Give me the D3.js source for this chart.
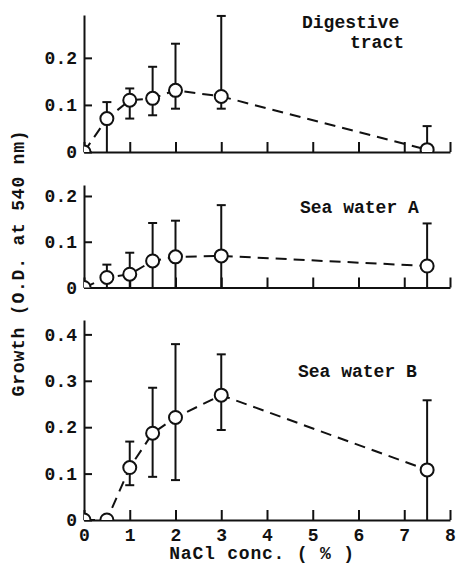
<!DOCTYPE html>
<html>
<head>
<meta charset="utf-8">
<script src="https://cdn.jsdelivr.net/npm/d3@7"></script>
<style>
    body { margin: 0; background: #fff; }
    svg text { font-family: "Liberation Mono", "DejaVu Sans Mono", monospace; font-weight: bold; fill: #111; }
</style>
</head>
<body>
<div id="chart"></div>
<script>
// NaCl concentrations (%)
const conc = [0, 0.5, 1, 1.5, 2, 3, 7.5];

// Digestive tract
const digestive = [0, 0.071, 0.11, 0.114, 0.131, 0.118, 0.005];
const digestiveUpper = [null, 0.106, 0.135, 0.181, 0.23, 0.289, 0.055];
const digestiveLower = [null, 0, 0.071, 0.078, 0.092, 0.092, null];

// Sea water A
const seaA = [0, 0.022, 0.029, 0.058, 0.067, 0.069, 0.047];
const seaAUpper = [null, 0.05, 0.076, 0.141, 0.146, 0.18, 0.14];
const seaALower = [null, 0, 0, 0, 0, 0, 0];

// Sea water B
const seaB = [0, 0, 0.113, 0.187, 0.221, 0.269, 0.108];
const seaBUpper = [null, null, 0.169, 0.285, 0.379, 0.357, 0.258];
const seaBLower = [null, null, 0.075, 0.093, 0.086, 0.194, 0];

const xTicks = [0, 1, 2, 3, 4, 5, 6, 7, 8];
const xTickLabels = ['0', '1', '2', '3', '4', '5', '6', '7', '8'];
const yTicksSmall = [0, 0.1, 0.2];
const yTickLabelsSmall = ['0', '0.1', '0.2'];
const yTicksB = [0, 0.1, 0.2, 0.3, 0.4];
const yTickLabelsB = ['0', '0.1', '0.2', '0.3', '0.4'];

const width = 460, height = 564;

const svg = d3.select('#chart').append('svg')
    .attr('width', width)
    .attr('height', height);

const x = d3.scaleLinear().domain([0, 8]).range([84, 450]);

const panels = [
    { name: ['Digestive', 'tract'], mean: digestive, upper: digestiveUpper, lower: digestiveLower,
      yMax: 0.291, top: 15, bottom: 152, ticks: yTicksSmall, tickLabels: yTickLabelsSmall,
      labelPos: [[302, 28], [350, 48]], showX: false },
    { name: ['Sea water A'], mean: seaA, upper: seaAUpper, lower: seaALower,
      yMax: 0.224, top: 185, bottom: 287.5, ticks: yTicksSmall, tickLabels: yTickLabelsSmall,
      labelPos: [[300, 213]], showX: false },
    { name: ['Sea water B'], mean: seaB, upper: seaBUpper, lower: seaBLower,
      yMax: 0.431, top: 320, bottom: 520, ticks: yTicksB, tickLabels: yTickLabelsB,
      labelPos: [[298, 377]], showX: true }
];

panels.forEach((p, i) => {
    const y = d3.scaleLinear().domain([0, p.yMax]).range([p.bottom, p.top]);
    const g = svg.append('g').attr('class', 'panel');

    // clip so points sitting on the axes are cut off like in the original
    const clipId = 'clip' + i;
    svg.append('clipPath').attr('id', clipId)
        .append('rect')
        .attr('x', x(0)).attr('y', 0)
        .attr('width', width - x(0)).attr('height', p.bottom);

    // y axis (ticks point inward)
    const yAxis = g.append('g')
        .attr('transform', `translate(${x(0)},0)`)
        .call(d3.axisLeft(y)
            .tickValues(p.ticks)
            .tickFormat((d, j) => p.tickLabels[j])
            .tickSizeInner(-8)
            .tickSizeOuter(0)
            .tickPadding(7));

    // x axis (ticks point up)
    const xAxis = g.append('g')
        .attr('transform', `translate(0,${p.bottom})`)
        .call(d3.axisBottom(x)
            .tickValues(xTicks)
            .tickFormat((d, j) => p.showX ? xTickLabels[j] : '')
            .tickSizeInner(-10)
            .tickSizeOuter(0)
            .tickPadding(8));

    [yAxis, xAxis].forEach(a => {
        a.select('.domain').attr('stroke', '#111').attr('stroke-width', 2);
        a.selectAll('.tick line').attr('stroke', '#111').attr('stroke-width', 2);
        a.selectAll('.tick text').attr('font-size', 18).attr('fill', '#111')
            .style('font-family', '"Liberation Mono", monospace');
    });

    const pts = conc.map((c, j) => ({ x: c, y: p.mean[j], up: p.upper[j], lo: p.lower[j] }));

    // dashed connecting line
    g.append('path')
        .datum(pts)
        .attr('clip-path', `url(#${clipId})`)
        .attr('fill', 'none')
        .attr('stroke', '#111')
        .attr('stroke-width', 2)
        .attr('stroke-dasharray', '11,7')
        .attr('d', d3.line().x(d => x(d.x)).y(d => y(d.y)));

    // error bars
    const eb = g.append('g');
    pts.filter(d => d.up !== null).forEach(d => {
        eb.append('line')
            .attr('x1', x(d.x)).attr('x2', x(d.x))
            .attr('y1', y(d.up)).attr('y2', y(d.lo !== null ? d.lo : d.y))
            .attr('stroke', '#111').attr('stroke-width', 2);
        eb.append('line')
            .attr('x1', x(d.x) - 4.5).attr('x2', x(d.x) + 4.5)
            .attr('y1', y(d.up)).attr('y2', y(d.up))
            .attr('stroke', '#111').attr('stroke-width', 2);
        if (d.lo !== null && d.lo > 0) {
            eb.append('line')
                .attr('x1', x(d.x) - 4.5).attr('x2', x(d.x) + 4.5)
                .attr('y1', y(d.lo)).attr('y2', y(d.lo))
                .attr('stroke', '#111').attr('stroke-width', 2);
        }
    });

    // open circles
    g.append('g')
        .attr('clip-path', `url(#${clipId})`)
        .selectAll('circle')
        .data(pts)
        .enter().append('circle')
        .attr('cx', d => x(d.x))
        .attr('cy', d => y(d.y))
        .attr('r', 6.5)
        .attr('fill', '#fff')
        .attr('stroke', '#111')
        .attr('stroke-width', 2);

    // panel label
    p.name.forEach((t, j) => {
        g.append('text')
            .attr('x', p.labelPos[j][0])
            .attr('y', p.labelPos[j][1])
            .attr('font-size', 18)
            .text(t);
    });
});

// axis titles
svg.append('text')
    .attr('transform', 'translate(24,263) rotate(-90)')
    .attr('text-anchor', 'middle')
    .attr('font-size', 18)
    .attr('letter-spacing', 0.8)
    .text('Growth (O.D. at 540 nm)');

svg.append('text')
    .attr('x', 262)
    .attr('y', 559)
    .attr('text-anchor', 'middle')
    .attr('font-size', 18)
    .attr('letter-spacing', 0.8)
    .text('NaCl conc. ( % )');
</script>
</body>
</html>
